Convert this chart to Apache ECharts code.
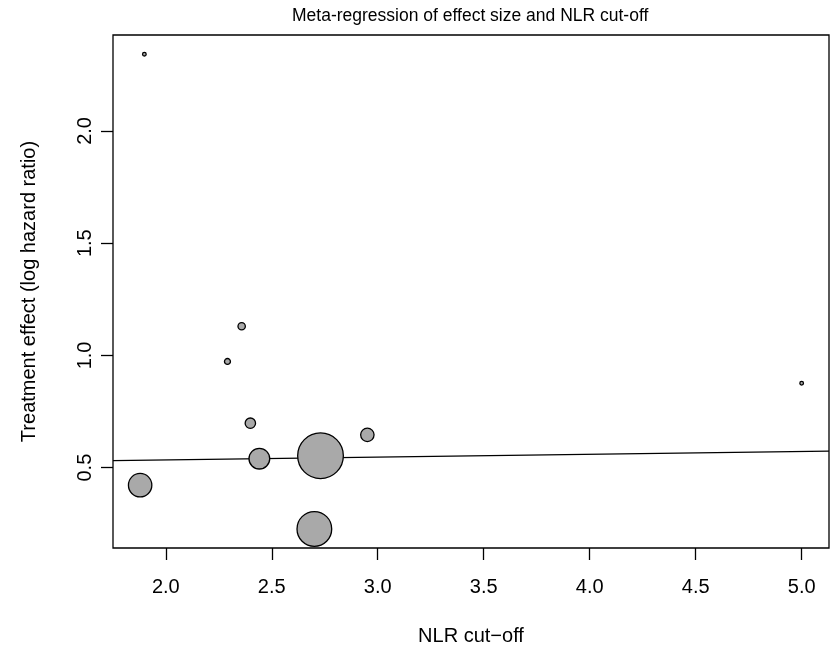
<!DOCTYPE html>
<html>
<head>
<meta charset="utf-8">
<script src="https://cdn.jsdelivr.net/npm/echarts@6/dist/echarts.min.js"></script>
<style>html,body{margin:0;padding:0;background:#fff}#c{width:836px;height:651px}</style>
</head>
<body>
<div id="c"></div>
<script>
// Data
const nlrCutoff = [1.899, 1.879, 2.291, 2.358, 2.399, 2.4415, 2.701, 2.730, 2.951, 5.0];
const logHR     = [2.342, 0.422, 0.973, 1.130, 0.698, 0.540, 0.227, 0.553, 0.646, 0.876];
const weights   = [1.1, 27.6, 2.4, 3.4, 6.2, 21.9, 58.7, 100, 9.8, 1.1];
const regIntercept = 0.510;
const regSlope = 0.0124;
const xTicks = [2.0, 2.5, 3.0, 3.5, 4.0, 4.5, 5.0];
const yTicks = [0.5, 1.0, 1.5, 2.0];

const xMin = 1.751, xMax = 5.129, yMin = 0.142, yMax = 2.4275;
const FONT = 'Liberation Sans';

const pts = nlrCutoff.map((x, i) => [x, logHR[i], weights[i]]);
const linePts = [[xMin, regIntercept + regSlope * xMin], [xMax, regIntercept + regSlope * xMax]];

const chart = echarts.init(document.getElementById('c'), null, {renderer: 'canvas'});
chart.setOption({
  animation: false,
  backgroundColor: '#fff',
  title: {
    text: 'Meta-regression of effect size and NLR cut-off',
    left: 292, top: 7, padding: 0,
    textStyle: {fontFamily: FONT, fontSize: 17.5, fontWeight: 'normal', color: '#000'}
  },
  grid: {left: 113, right: 7, top: 35, bottom: 99, show: true, borderColor: '#000', borderWidth: 1.3, backgroundColor: 'transparent'},
  xAxis: {
    type: 'value', min: xMin, max: xMax,
    name: 'NLR cut\u2212off', nameLocation: 'middle', nameGap: 78,
    nameTextStyle: {fontFamily: FONT, fontSize: 20, color: '#000'},
    axisLine: {show: false},
    splitLine: {show: false},
    axisTick: {show: true, inside: false, length: 12, customValues: xTicks, lineStyle: {color: '#000', width: 1.3}},
    axisLabel: {customValues: xTicks, margin: 29, fontFamily: FONT, fontSize: 20, color: '#000',
      formatter: v => v.toFixed(1)}
  },
  yAxis: {
    type: 'value', min: yMin, max: yMax,
    name: 'Treatment effect (log hazard ratio)', nameLocation: 'middle', nameGap: 74, nameRotate: 90,
    nameTextStyle: {fontFamily: FONT, fontSize: 20, color: '#000'},
    axisLine: {show: false},
    splitLine: {show: false},
    axisTick: {show: true, inside: false, length: 12, customValues: yTicks, lineStyle: {color: '#000', width: 1.3}},
    axisLabel: {customValues: yTicks, rotate: 90, margin: 18, fontFamily: FONT, fontSize: 20, color: '#000',
      formatter: v => v.toFixed(1)}
  },
  series: [
    {
      type: 'line', data: linePts, symbol: 'none', silent: true,
      lineStyle: {color: '#000', width: 1.2}, z: 2
    },
    {
      type: 'scatter', data: pts, z: 3,
      symbol: 'circle',
      symbolSize: d => 4.7 * Math.sqrt(d[2]) - 1.3,
      itemStyle: {color: '#A9A9A9', borderColor: '#000', borderWidth: 1.3, opacity: 1}
    }
  ]
});
</script>
</body>
</html>
